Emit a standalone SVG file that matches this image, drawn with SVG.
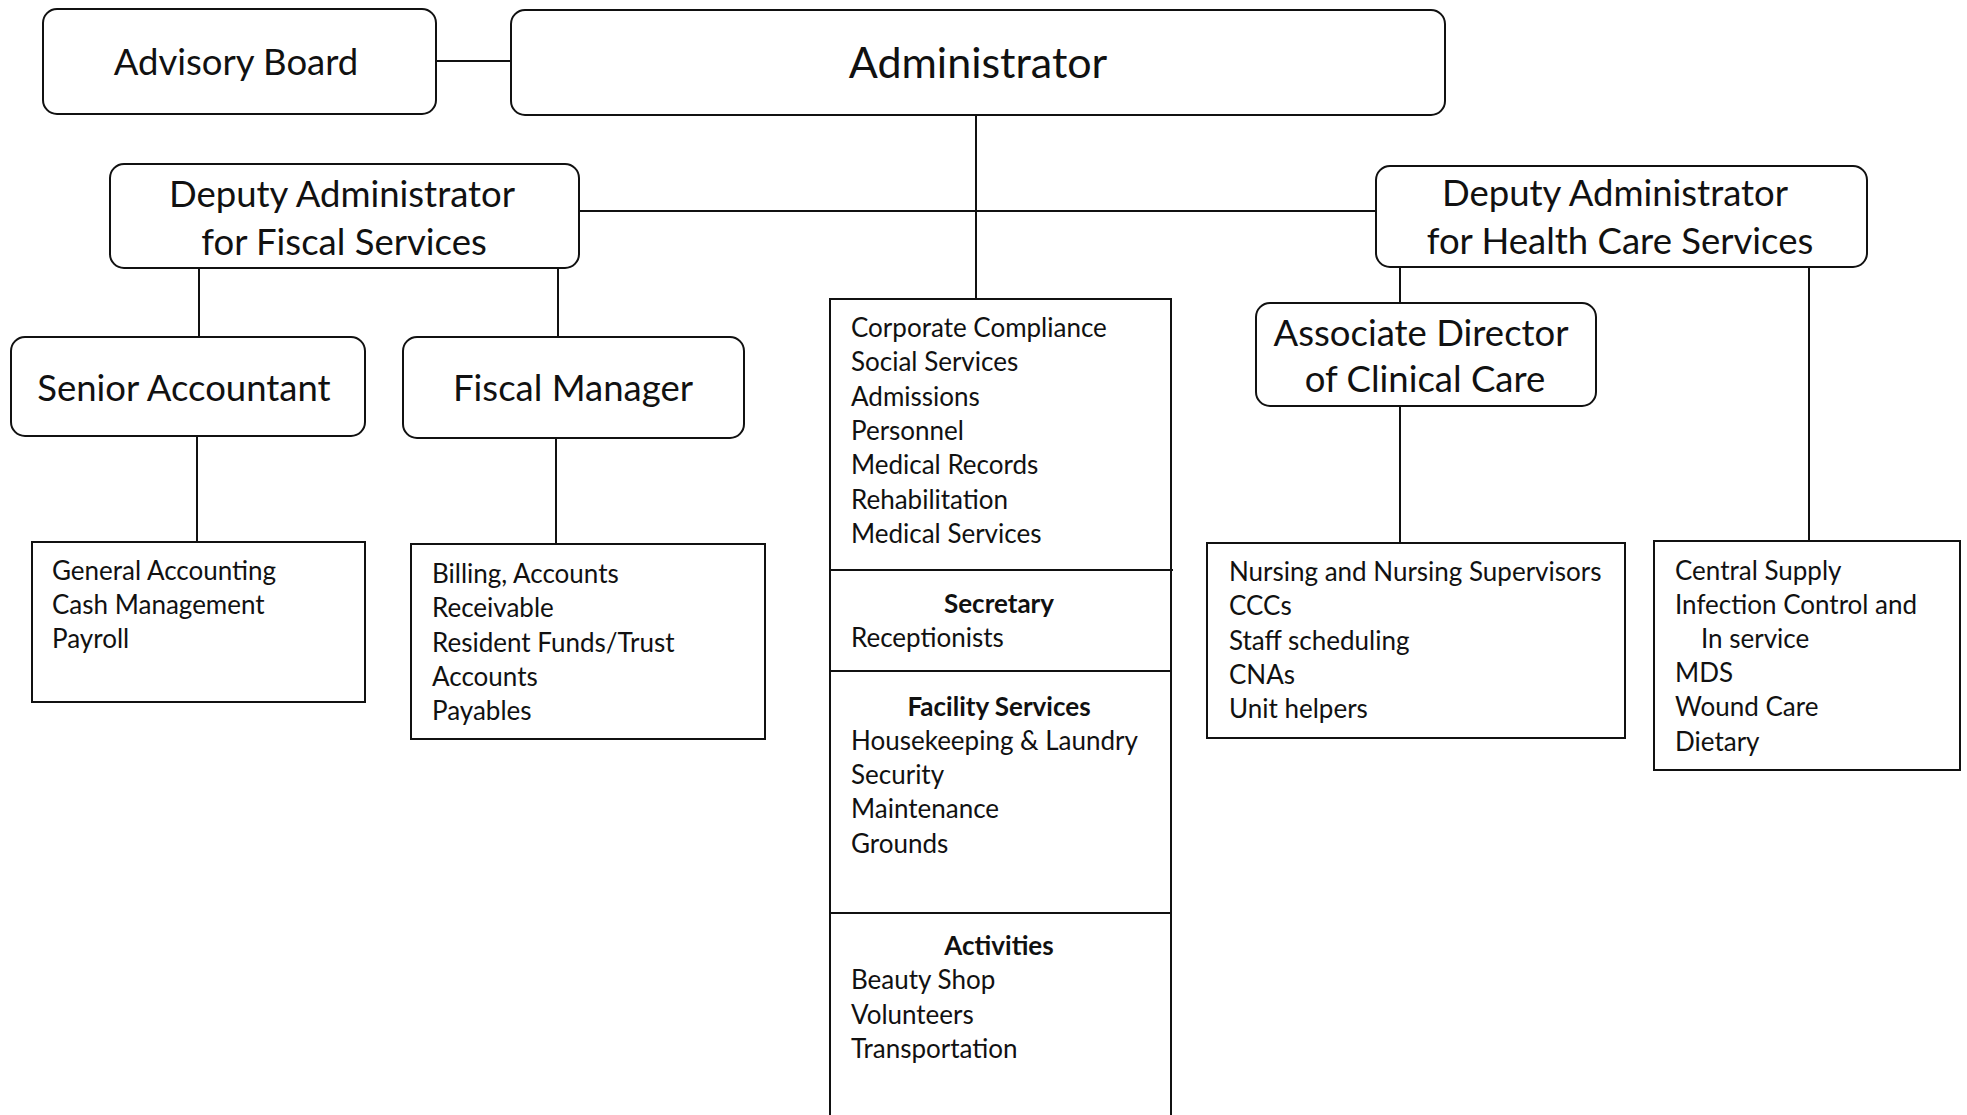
<svg xmlns="http://www.w3.org/2000/svg" width="1967" height="1115" viewBox="0 0 1967 1115">
<style>
.box{fill:#fff;stroke:#111;stroke-width:2}
.rbox{fill:#fff;stroke:#111;stroke-width:2}
.ln{stroke:#111;stroke-width:2;fill:none}
.lbl{font-family:Lato,"Open Sans","Liberation Sans",sans-serif;font-size:36.5px;fill:#111;text-anchor:middle}
.big{font-family:Lato,"Open Sans","Liberation Sans",sans-serif;font-size:43px;fill:#111;text-anchor:middle}
.it{font-family:Lato,"Open Sans","Liberation Sans",sans-serif;font-size:26px;fill:#111}
.hd{font-family:Lato,"Open Sans","Liberation Sans",sans-serif;font-size:26px;font-weight:bold;fill:#111;text-anchor:middle}
</style>
<rect width="1967" height="1115" fill="#fff"/>
<g id="connectors">
<line class="ln" x1="436" y1="61" x2="511" y2="61"/>
<line class="ln" x1="976" y1="115" x2="976" y2="299"/>
<line class="ln" x1="579" y1="211" x2="1376" y2="211"/>
<line class="ln" x1="199" y1="268" x2="199" y2="337"/>
<line class="ln" x1="558" y1="268" x2="558" y2="337"/>
<line class="ln" x1="197" y1="436" x2="197" y2="542"/>
<line class="ln" x1="556" y1="438" x2="556" y2="544"/>
<line class="ln" x1="1400" y1="267" x2="1400" y2="303"/>
<line class="ln" x1="1809" y1="267" x2="1809" y2="541"/>
<line class="ln" x1="1400" y1="406" x2="1400" y2="543"/>
</g>
<g id="advisory-board">
<rect class="rbox" x="43" y="9" width="393" height="105" rx="14"/>
<text class="lbl" x="236" y="75">Advisory Board</text>
</g>
<g id="administrator">
<rect class="rbox" x="511" y="10" width="934" height="105" rx="14"/>
<text class="big" x="978" y="78">Administrator</text>
</g>
<g id="deputy-fiscal">
<rect class="rbox" x="110" y="164" width="469" height="104" rx="14"/>
<text class="lbl" x="342" y="207">Deputy Administrator</text>
<text class="lbl" x="344" y="255">for Fiscal Services</text>
</g>
<g id="deputy-health">
<rect class="rbox" x="1376" y="166" width="491" height="101" rx="14"/>
<text class="lbl" x="1615" y="206">Deputy Administrator</text>
<text class="lbl" x="1620" y="254">for Health Care Services</text>
</g>
<g id="senior-accountant">
<rect class="rbox" x="11" y="337" width="354" height="99" rx="14"/>
<text class="lbl" x="184" y="401">Senior Accountant</text>
</g>
<g id="fiscal-manager">
<rect class="rbox" x="403" y="337" width="341" height="101" rx="14"/>
<text class="lbl" x="573" y="401">Fiscal Manager</text>
</g>
<g id="associate-director">
<rect class="rbox" x="1256" y="303" width="340" height="103" rx="14"/>
<text class="lbl" x="1421" y="346">Associate Director</text>
<text class="lbl" x="1425" y="392">of Clinical Care</text>
</g>
<g id="general-accounting">
<rect class="box" x="32" y="542" width="333" height="160"/>
<text class="it" x="52" y="580">General Accounting</text>
<text class="it" x="52" y="614">Cash Management</text>
<text class="it" x="52" y="648">Payroll</text>
</g>
<g id="billing">
<rect class="box" x="411" y="544" width="354" height="195"/>
<text class="it" x="432" y="583">Billing, Accounts</text>
<text class="it" x="432" y="617">Receivable</text>
<text class="it" x="432" y="652">Resident Funds/Trust</text>
<text class="it" x="432" y="686">Accounts</text>
<text class="it" x="432" y="720">Payables</text>
</g>
<g id="center-column">
<path class="ln" d="M830,1120 V299 H1171 V1120"/>
<line class="ln" x1="830" y1="570" x2="1173" y2="570"/>
<line class="ln" x1="830" y1="671" x2="1171" y2="671"/>
<line class="ln" x1="830" y1="913" x2="1171" y2="913"/>
<text class="it" x="851" y="337">Corporate Compliance</text>
<text class="it" x="851" y="371">Social Services</text>
<text class="it" x="851" y="406">Admissions</text>
<text class="it" x="851" y="440">Personnel</text>
<text class="it" x="851" y="474">Medical Records</text>
<text class="it" x="851" y="509">Rehabilitation</text>
<text class="it" x="851" y="543">Medical Services</text>
<text class="hd" x="999" y="613">Secretary</text>
<text class="it" x="851" y="647">Receptionists</text>
<text class="hd" x="999" y="716">Facility Services</text>
<text class="it" x="851" y="750">Housekeeping &amp; Laundry</text>
<text class="it" x="851" y="784">Security</text>
<text class="it" x="851" y="818">Maintenance</text>
<text class="it" x="851" y="853">Grounds</text>
<text class="hd" x="999" y="955">Activities</text>
<text class="it" x="851" y="989">Beauty Shop</text>
<text class="it" x="851" y="1024">Volunteers</text>
<text class="it" x="851" y="1058">Transportation</text>
</g>
<g id="nursing">
<rect class="box" x="1207" y="543" width="418" height="195"/>
<text class="it" x="1229" y="581">Nursing and Nursing Supervisors</text>
<text class="it" x="1229" y="615">CCCs</text>
<text class="it" x="1229" y="650">Staff scheduling</text>
<text class="it" x="1229" y="684">CNAs</text>
<text class="it" x="1229" y="718">Unit helpers</text>
</g>
<g id="central-supply">
<rect class="box" x="1654" y="541" width="306" height="229"/>
<text class="it" x="1675" y="580">Central Supply</text>
<text class="it" x="1675" y="614">Infection Control and</text>
<text class="it" x="1701" y="648">In service</text>
<text class="it" x="1675" y="682">MDS</text>
<text class="it" x="1675" y="716">Wound Care</text>
<text class="it" x="1675" y="751">Dietary</text>
</g>
</svg>
